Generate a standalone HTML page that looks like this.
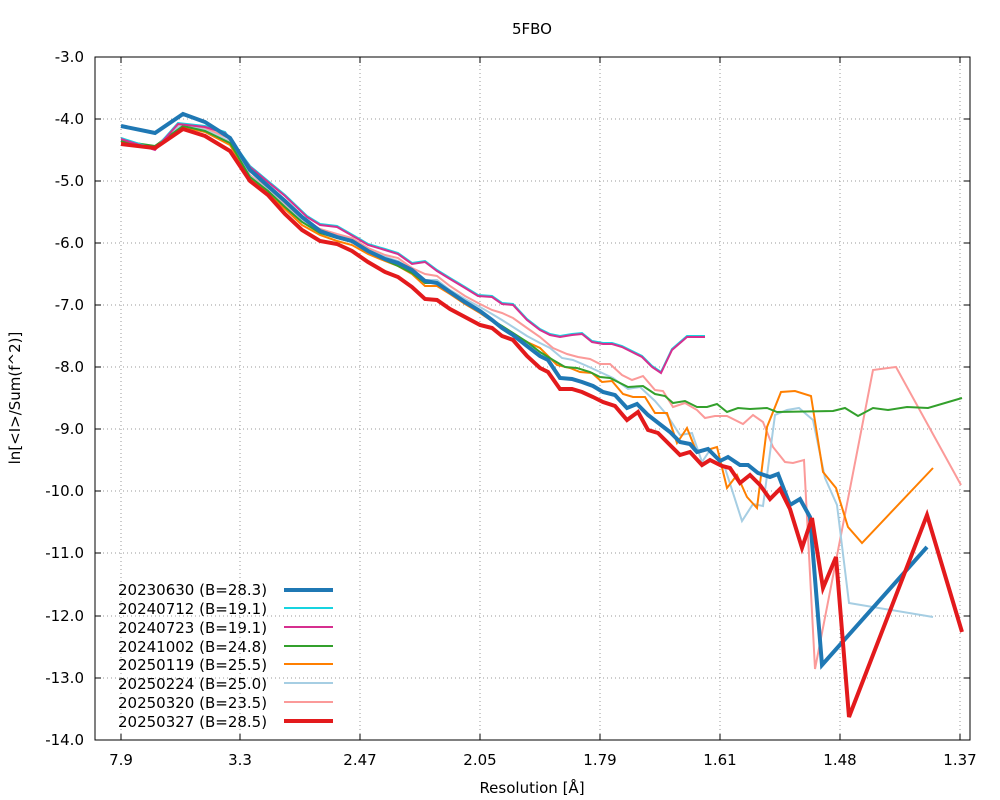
<!DOCTYPE html>
<html><head><meta charset="utf-8"><style>
body{margin:0;background:#fff}
svg{display:block;font-family:"DejaVu Sans","Liberation Sans",sans-serif}
</style></head><body>
<svg width="1000" height="800" viewBox="0 0 1000 800" xmlns="http://www.w3.org/2000/svg">
<rect width="1000" height="800" fill="#fff"/>
<text x="532" y="34" font-size="15" text-anchor="middle">5FBO</text>
<g stroke="#999" stroke-width="1" stroke-dasharray="1,3">
<line x1="95" x2="970" y1="119" y2="119"/><line x1="95" x2="970" y1="181" y2="181"/><line x1="95" x2="970" y1="243" y2="243"/><line x1="95" x2="970" y1="305" y2="305"/><line x1="95" x2="970" y1="367" y2="367"/><line x1="95" x2="970" y1="429" y2="429"/><line x1="95" x2="970" y1="491" y2="491"/><line x1="95" x2="970" y1="553" y2="553"/><line x1="95" x2="970" y1="616" y2="616"/><line x1="95" x2="970" y1="678" y2="678"/>
<line y1="57" y2="740" x1="121" x2="121"/><line y1="57" y2="740" x1="240" x2="240"/><line y1="57" y2="740" x1="360" x2="360"/><line y1="57" y2="740" x1="480" x2="480"/><line y1="57" y2="740" x1="600" x2="600"/><line y1="57" y2="740" x1="720" x2="720"/><line y1="57" y2="740" x1="840" x2="840"/><line y1="57" y2="740" x1="960" x2="960"/>
</g>
<rect x="95" y="57" width="875" height="683" fill="none" stroke="#000" stroke-width="1"/>
<g stroke="#000">
<path d="M95 57h6M95 119h6M95 181h6M95 243h6M95 305h6M95 367h6M95 429h6M95 491h6M95 553h6M95 616h6M95 678h6M95 740h6M970 57h-6M970 119h-6M970 181h-6M970 243h-6M970 305h-6M970 367h-6M970 429h-6M970 491h-6M970 553h-6M970 616h-6M970 678h-6M970 740h-6"/>
<path d="M121 740v-6M240 740v-6M360 740v-6M480 740v-6M600 740v-6M720 740v-6M840 740v-6M960 740v-6M121 57v6M240 57v6M360 57v6M480 57v6M600 57v6M720 57v6M840 57v6M960 57v6"/>
</g>
<g font-size="15" text-anchor="end">
<text x="84" y="62">-3.0</text><text x="84" y="124">-4.0</text><text x="84" y="186">-5.0</text><text x="84" y="248">-6.0</text><text x="84" y="310">-7.0</text><text x="84" y="372">-8.0</text><text x="84" y="434">-9.0</text><text x="84" y="496">-10.0</text><text x="84" y="558">-11.0</text><text x="84" y="621">-12.0</text><text x="84" y="683">-13.0</text><text x="84" y="745">-14.0</text>
</g>
<g font-size="15" text-anchor="middle">
<text x="121" y="765">7.9</text><text x="240" y="765">3.3</text><text x="360" y="765">2.47</text><text x="480" y="765">2.05</text><text x="600" y="765">1.79</text><text x="720" y="765">1.61</text><text x="840" y="765">1.48</text><text x="960" y="765">1.37</text>
<text x="532" y="793">Resolution [Å]</text>
</g>
<text transform="translate(20,398) rotate(-90)" font-size="15" text-anchor="middle">ln[&lt;I&gt;/Sum(f^2)]</text>
<g fill="none" stroke-linejoin="miter">
<polyline stroke="#fb9a99" stroke-width="2" points="121,140 155,147 180,124 205,128 228,138 250,175 268,189 285,204 302,219 320,229 337,234 352,238 368,248 385,255 398,258 412,268 425,274 437,276 450,286 465,296 480,304 492,310 502,313 513,318 527,328 540,337 553,348 567,354 578,357 590,359 600,364 610,364 622,375 632,380 643,376 655,390 663,391 673,407 685,403 697,410 705,418 715,416 727,416 743,424 753,415 763,422 773,447 785,462 793,463 804,460 815,669 873,370 896,367 961,485"/>
<polyline stroke="#a6cee3" stroke-width="2" points="121,141 155,147 181,125 205,130 229,141 250,176 268,190 285,206 302,221 320,231 337,236 352,240 368,250 385,257 398,261 412,270 425,280 437,280 450,290 465,299 480,307 492,314 502,320 513,327 527,336 540,343 550,348 562,358 573,360 587,366 600,372 613,378 628,389 640,387 655,401 667,415 680,435 692,433 702,462 710,450 725,468 742,521 753,504 763,506 775,415 787,410 799,408 813,420 825,478 837,505 849,603 933,617"/>
<polyline stroke="#ff7f00" stroke-width="2" points="121,142 155,147 183,127 205,132 230,145 250,178 268,193 285,209 302,225 320,235 337,241 352,245 368,254 385,261 398,266 412,274 425,286 437,286 450,294 465,304 480,313 492,321 502,327 513,334 527,342 540,348 557,365 570,368 580,372 592,373 602,382 612,381 623,394 633,397 645,397 655,413 667,413 677,443 687,428 697,453 717,447 727,488 737,475 747,497 757,508 767,427 781,392 795,391 811,396 823,472 836,488 848,527 862,543 933,468"/>
<polyline stroke="#33a02c" stroke-width="2" points="121,141 155,146 183,126 205,131 230,143 250,177 268,191 285,207 302,222 320,233 337,238 352,242 368,252 385,260 398,266 412,273 425,283 437,283 450,292 465,302 480,311 492,320 502,326 513,333 527,342 540,352 553,360 565,367 577,368 590,372 600,377 610,378 628,387 643,386 655,394 665,396 673,403 685,401 697,407 707,407 717,404 727,412 738,408 750,409 767,408 777,412 833,411 845,408 858,416 873,408 888,410 907,407 928,408 962,398"/>
<polyline stroke="#17d4e0" stroke-width="2" points="121,138 155,149 178,123 205,126 225,132 250,166 268,181 285,195 307,216 320,224 337,226 358,238 368,244 385,249 398,253 412,263 425,261 437,270 450,278 465,287 478,295 492,296 502,303 513,304 527,319 540,329 550,334 560,336 572,334 582,333 592,341 603,343 612,343 622,346 632,351 642,356 652,366 661,372 672,349 687,336 705,336"/>
<polyline stroke="#d62f8f" stroke-width="2" points="121,139 155,150 178,124 205,127 225,133 250,167 268,182 285,196 307,217 320,225 337,227 358,239 368,245 385,250 398,254 412,264 425,262 437,271 450,279 465,288 478,296 492,297 502,304 513,305 527,320 540,330 550,335 560,337 572,335 582,334 592,342 603,344 612,344 622,347 632,352 642,357 652,367 661,373 672,350 687,337 705,337"/>
<polyline stroke="#1f78b4" stroke-width="4" points="121,126 155,133 183,114 205,122 230,138 250,170 268,186 285,201 302,217 320,231 337,237 352,241 368,251 385,259 398,263 412,270 425,281 437,283 450,292 465,302 480,311 492,320 502,328 513,335 527,346 540,356 548,360 560,378 572,379 582,382 593,386 603,392 615,395 627,408 637,404 648,415 670,432 680,442 690,444 697,452 708,449 720,461 728,457 740,465 748,465 758,473 770,477 778,474 790,505 800,499 810,517 822,665 927,547"/>
<polyline stroke="#e31a1c" stroke-width="4" points="121,144 155,148 183,129 205,136 230,151 250,181 268,195 285,214 302,230 320,241 337,244 352,251 368,262 385,272 398,277 412,287 425,299 437,300 450,309 465,317 480,325 492,328 502,336 513,340 527,356 540,368 548,372 560,389 572,389 582,392 593,397 603,402 615,406 627,420 638,412 648,430 658,433 668,443 680,455 690,452 702,465 710,460 722,466 730,468 740,483 750,475 760,485 770,499 780,489 790,509 802,548 812,518 823,588 836,557 849,717 927,515 962,632"/>
</g>
<g font-size="15">
<text x="118" y="595">20230630 (B=28.3)</text><text x="118" y="614">20240712 (B=19.1)</text><text x="118" y="633">20240723 (B=19.1)</text><text x="118" y="652">20241002 (B=24.8)</text><text x="118" y="670">20250119 (B=25.5)</text><text x="118" y="689">20250224 (B=25.0)</text><text x="118" y="708">20250320 (B=23.5)</text><text x="118" y="727">20250327 (B=28.5)</text>
</g>
<g>
<line x1="284" x2="333" y1="590" y2="590" stroke="#1f78b4" stroke-width="4"/>
<line x1="284" x2="333" y1="608" y2="608" stroke="#17d4e0" stroke-width="2"/>
<line x1="284" x2="333" y1="627" y2="627" stroke="#d62f8f" stroke-width="2"/>
<line x1="284" x2="333" y1="646" y2="646" stroke="#33a02c" stroke-width="2"/>
<line x1="284" x2="333" y1="664" y2="664" stroke="#ff7f00" stroke-width="2"/>
<line x1="284" x2="333" y1="683" y2="683" stroke="#a6cee3" stroke-width="2"/>
<line x1="284" x2="333" y1="702" y2="702" stroke="#fb9a99" stroke-width="2"/>
<line x1="284" x2="333" y1="721" y2="721" stroke="#e31a1c" stroke-width="4"/>
</g>
</svg>
</body></html>
